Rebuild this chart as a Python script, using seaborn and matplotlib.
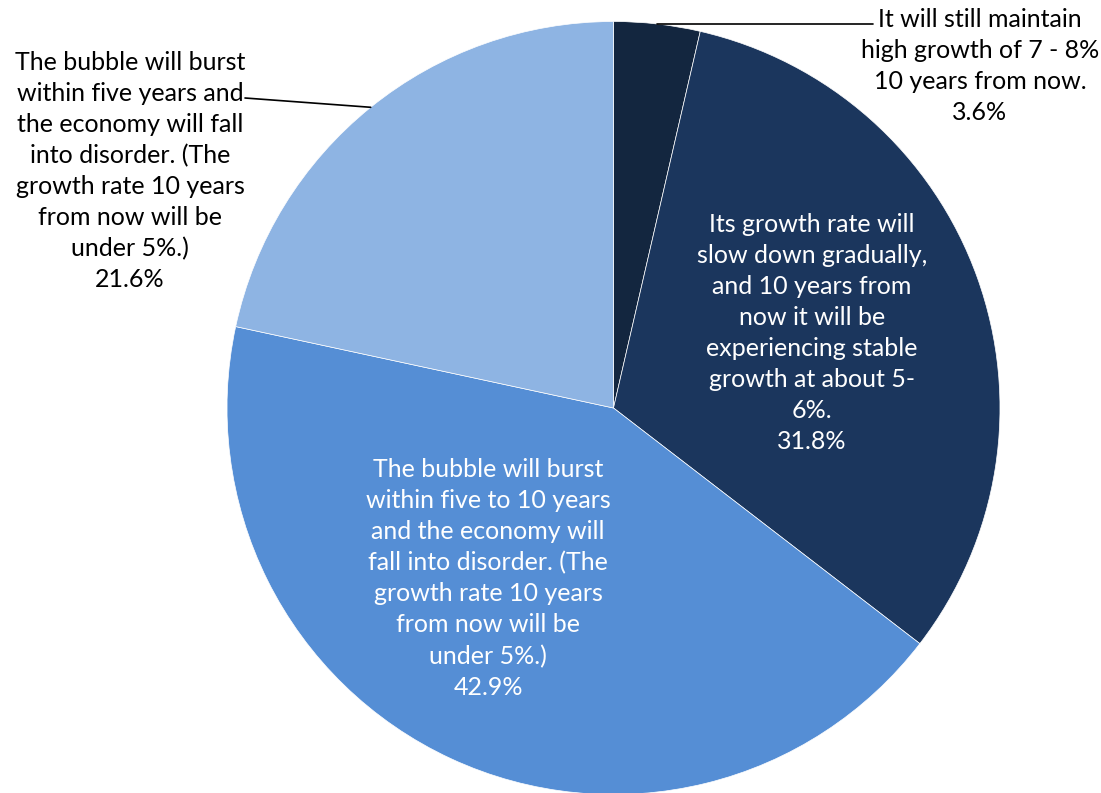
import matplotlib
matplotlib.use("Agg")
import matplotlib.pyplot as plt
import seaborn as sns
import numpy as np

sns.set_theme(style="white")
plt.rcParams['font.family'] = ['Lato', 'DejaVu Sans']

labels = [
    "It will still maintain\nhigh growth of 7 - 8%\n10 years from now.",
    "Its growth rate will\nslow down gradually,\nand 10 years from\nnow it will be\nexperiencing stable\ngrowth at about 5-\n6%.",
    "The bubble will burst\nwithin five to 10 years\nand the economy will\nfall into disorder. (The\ngrowth rate 10 years\nfrom now will be\nunder 5%.)",
    "The bubble will burst\nwithin five years and\nthe economy will fall\ninto disorder. (The\ngrowth rate 10 years\nfrom now will be\nunder 5%.)",
]
values = [3.6, 31.8, 42.9, 21.6]
colors = ["#13263F", "#1B365D", "#558ED5", "#8EB4E3"]

W, H = 1101, 793
cx, cy, R = 613.5, 408.0, 386.5
fig = plt.figure(figsize=(W / 100, H / 100), dpi=100)
ax = fig.add_axes([0, 0, 1, 1])
wedges, _ = ax.pie(values, colors=colors, startangle=90, counterclock=False,
                   wedgeprops=dict(edgecolor="white", linewidth=0.5))
ax.set_xlim(-cx / R, (W - cx) / R)
ax.set_ylim((cy - H) / R, cy / R)
ax.set_aspect("equal")
ax.axis("off")

def px(x, y):
    return ((x - cx) / R, (cy - y) / R)

fs = 18
ls = 1.42
label_pos = [(980, 66), (812, 333), (488, 578.5), (130, 171)]
txt_colors = ["#000000", "white", "white", "#000000"]
for i, (lab, v) in enumerate(zip(labels, values)):
    x, y = px(*label_pos[i])
    ax.text(x, y, f"{lab}\n{v:.1f}%", ha="center", va="center", fontsize=fs,
            color=txt_colors[i], linespacing=ls)

for i, end in [(0, (873, 25)), (3, (245, 98))]:
    w = wedges[i]
    ang = np.deg2rad((w.theta1 + w.theta2) / 2)
    sx, sy = np.cos(ang), np.sin(ang)
    ex, ey = px(*end)
    if i == 0:
        ax.plot([sx, ex], [sy, sy], color="black", lw=1.2)
    else:
        ax.plot([sx, ex], [sy, ey], color="black", lw=1.2)

fig.savefig("out.png", dpi=100)
